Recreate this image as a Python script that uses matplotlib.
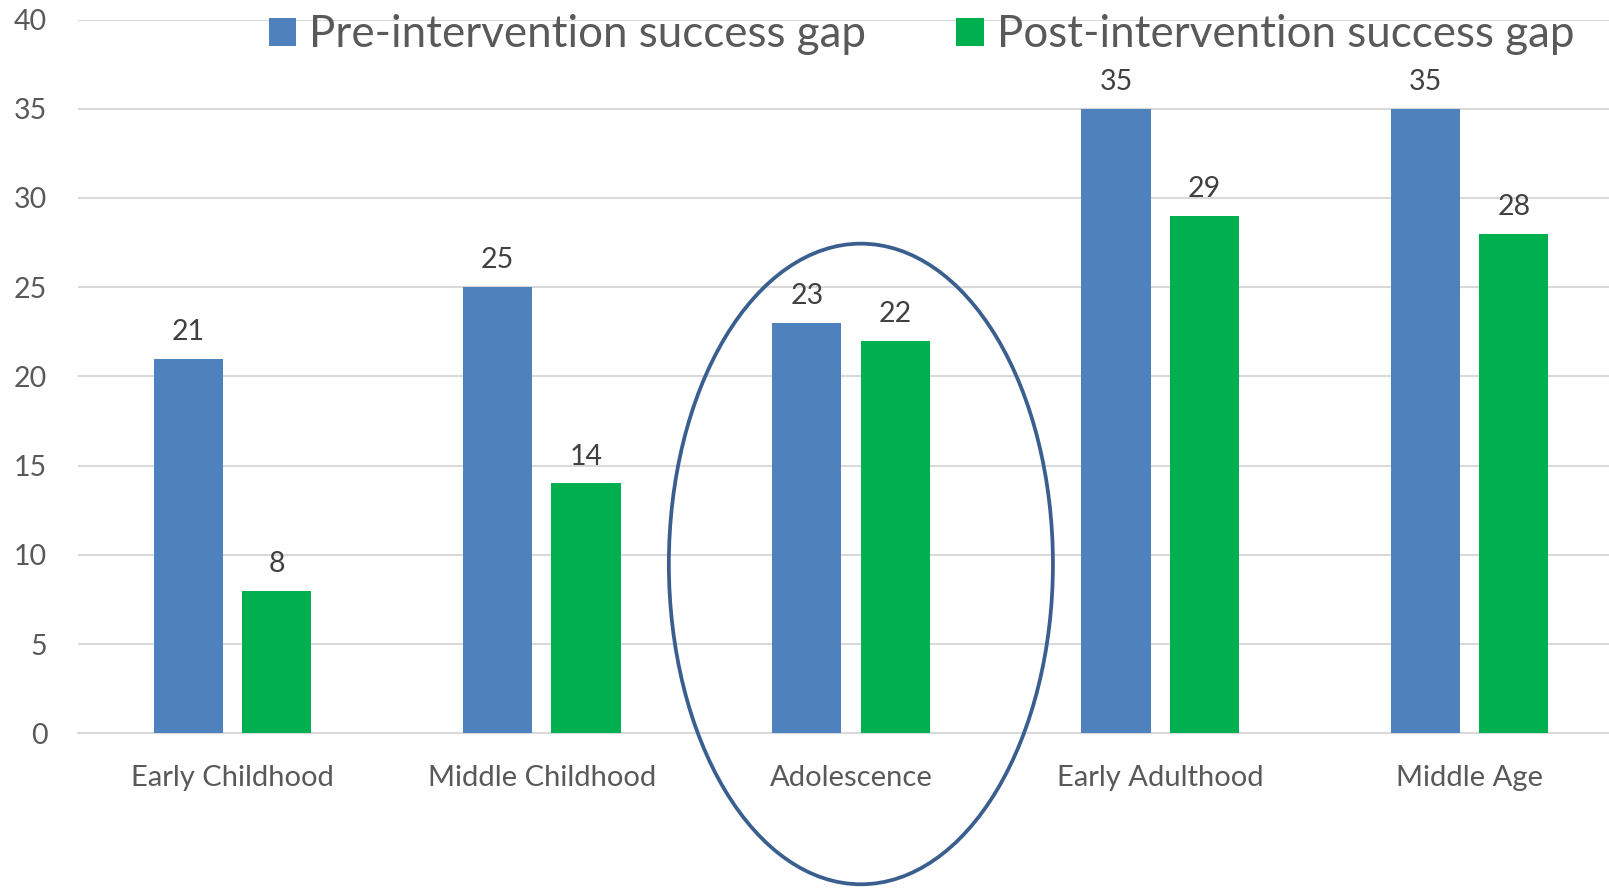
import matplotlib.pyplot as plt
from matplotlib.patches import Ellipse
import numpy as np

plt.rcParams["font.family"] = ["Lato", "DejaVu Sans"]

stages = ["Early Childhood", "Middle Childhood", "Adolescence", "Early Adulthood", "Middle Age"]
pre_gap = [21, 25, 23, 35, 35]
post_gap = [8, 14, 22, 29, 28]
y_ticks = [0, 5, 10, 15, 20, 25, 30, 35, 40]

BLUE = "#4F81BD"
GREEN = "#00B050"
GRID = "#D9D9D9"
TEXT = "#595959"
LABEL = "#404040"

fig = plt.figure(figsize=(16.09, 8.88), dpi=100)
ax = fig.add_axes([0.0484, 0.1742, 0.961, 0.8038])

x = np.arange(len(stages))
width = 0.224
offset = 0.143
b1 = ax.bar(x - offset, pre_gap, width, color=BLUE, label="Pre-intervention success gap", zorder=3)
b2 = ax.bar(x + offset, post_gap, width, color=GREEN, label="Post-intervention success gap", zorder=3)

for bars in (b1, b2):
    ax.bar_label(bars, padding=10, fontsize=20.5, color=LABEL)

ax.set_xlim(-0.5, len(stages) - 0.5)
ax.set_ylim(0, 40)
ax.set_yticks(y_ticks)
ax.set_xticks(x)
ax.set_xticklabels(stages)
ax.tick_params(axis="y", length=0, pad=22, labelsize=20.5, labelcolor=TEXT)
ax.tick_params(axis="x", length=0, pad=22.5, labelsize=21, labelcolor=TEXT)

ax.grid(axis="y", color=GRID, linewidth=1.5, zorder=0)
for side in ("top", "right", "left"):
    ax.spines[side].set_visible(False)
ax.spines["bottom"].set_color(GRID)
ax.spines["bottom"].set_linewidth(1.5)

# highlight the adolescence group
ax.add_patch(Ellipse((2.032, 9.49), 1.242, 35.9, fill=False,
                     edgecolor="#3A5F8F", linewidth=2.7, clip_on=False, zorder=4))

fig.legend(handles=[b1, b2], loc="upper left", bbox_to_anchor=(269 / 1609, 0.984), ncol=2,
           frameon=False, fontsize=31.6, labelcolor=TEXT, handlelength=0.62, handleheight=0.62,
           handletextpad=0.3, columnspacing=2.05, borderpad=0, borderaxespad=0)

fig.savefig("out.png", dpi=100)
